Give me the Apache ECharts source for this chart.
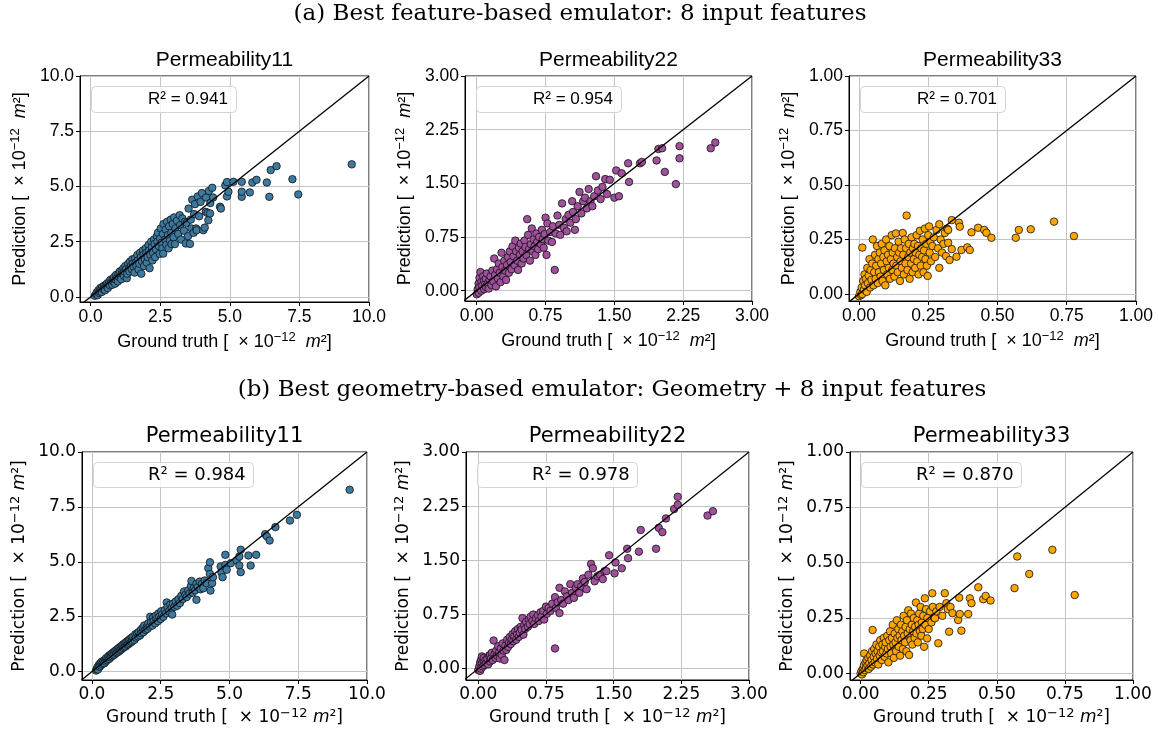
<!DOCTYPE html>
<html>
<head>
<meta charset="utf-8">
<title>Permeability emulators</title>
<script src="https://cdn.jsdelivr.net/npm/echarts@6.0.0/dist/echarts.min.js"></script>
<style>
  html, body { margin: 0; padding: 0; background: #fff; }
  #chart { width: 1159px; height: 734px; }
</style>
</head>
<body>
<div id="chart"></div>
<script>
// values, in 1e-12 m^2, pairs are [ground truth, prediction]
const p11Feature = [
  [0.15,0.05],[0.2,0.12],[0.22,0.2],[0.25,0.08],[0.28,0.3],[0.3,0.18],[0.33,0.25],[0.35,0.4],[0.38,0.32],[0.4,0.22],
  [0.42,0.45],[0.45,0.35],[0.48,0.5],[0.5,0.4],[0.52,0.3],[0.55,0.55],[0.58,0.48],[0.6,0.62],[0.62,0.4],[0.65,0.58],
  [0.68,0.7],[0.7,0.52],[0.72,0.78],[0.75,0.65],[0.78,0.55],[0.8,0.82],[0.82,0.7],[0.85,0.9],[0.88,0.6],[0.9,0.78],
  [0.92,1.0],[0.95,0.85],[0.98,0.7],[1.0,1.05],[1.02,0.9],[1.05,1.15],[1.08,0.95],[1.1,0.8],[1.12,1.2],[1.15,1.05],
  [1.18,1.3],[1.2,0.95],[1.22,1.15],[1.25,1.4],[1.28,1.25],[1.3,0.85],[1.32,1.05],[1.35,1.5],[1.38,1.3],[1.4,1.15],
  [1.42,1.6],[1.45,1.4],[1.48,1.25],[1.5,1.7],[1.52,1.5],[1.55,1.35],[1.58,1.1],[1.6,1.75],[1.62,1.55],[1.65,1.4],
  [1.68,1.9],[1.7,1.65],[1.72,1.25],[1.75,1.5],[1.78,2.0],[1.8,1.8],[1.82,1.05],[1.85,1.6],[1.88,2.1],[1.9,1.9],
  [1.92,1.4],[1.95,1.7],[1.98,2.2],[2.0,2.0],[2.02,1.55],[2.05,1.8],[2.08,2.35],[2.1,2.1],[2.12,1.3],[2.15,1.9],
  [2.18,2.5],[2.2,2.25],[2.22,1.65],[2.25,2.0],[2.28,2.6],[2.3,2.4],[2.32,1.8],[2.35,2.15],[2.38,2.75],[2.4,2.5],
  [2.42,2.9],[2.45,2.3],[2.48,1.95],[2.5,2.65],[2.52,3.1],[2.55,2.45],[2.58,2.2],[2.6,2.85],[2.61,1.96],[2.62,3.3],
  [2.68,2.6],[2.7,3.05],[2.72,2.35],[2.75,3.4],[2.78,2.8],[2.8,2.2],[2.82,3.2],[2.85,2.55],[2.88,3.5],[2.9,2.9],
  [2.91,2.39],[2.95,3.3],[2.98,2.7],[3.0,3.6],[3.03,2.39],[3.05,3.1],[3.1,3.45],[3.15,2.85],[3.2,3.7],[3.22,3.25],
  [3.25,2.6],[3.3,3.55],[3.35,3.0],[3.39,3.4],[3.42,2.42],[3.45,3.35],[3.5,2.75],[3.52,4.0],[3.57,2.4],[3.6,3.5],
  [3.62,3.1],[3.65,4.4],[3.7,2.9],[3.72,3.75],[3.75,4.2],[3.79,3.1],[3.81,3.02],[3.85,4.55],[3.9,3.65],[3.95,4.3],
  [4.0,4.7],[4.05,3.02],[4.1,3.14],[4.14,3.85],[4.15,4.5],[4.2,3.8],[4.23,3.47],[4.25,4.8],[4.29,3.78],[4.3,4.25],
  [4.37,4.94],[4.4,4.5],[4.65,4.08],[4.68,4.0],[4.84,5.05],[4.9,5.2],[4.9,4.55],[4.95,4.76],[5.13,5.21],[5.43,5.21],
  [5.43,4.53],[5.43,4.76],[5.72,4.73],[5.81,5.18],[5.96,5.3],[6.33,5.18],[6.42,4.53],[6.47,5.74],[6.68,5.92],[7.25,5.33],
  [7.46,4.64],[9.38,6.0]
];
const p22Feature = [
  [0.0,-0.05],[0.01,0.02],[0.02,-0.03],[0.02,0.1],[0.03,0.18],[0.03,0.05],[0.04,0.26],[0.05,0.0],[0.05,0.12],[0.06,0.07],
  [0.07,0.2],[0.08,0.02],[0.08,0.14],[0.09,0.09],[0.1,0.05],[0.1,0.17],[0.11,0.24],[0.12,0.1],[0.13,0.03],[0.14,0.15],
  [0.15,0.2],[0.16,0.08],[0.17,0.28],[0.18,0.13],[0.19,0.45],[0.2,0.22],[0.21,0.06],[0.22,0.3],[0.23,0.17],[0.24,0.38],
  [0.25,0.25],[0.26,0.12],[0.27,0.53],[0.28,0.33],[0.29,0.2],[0.3,0.42],[0.31,0.28],[0.32,0.15],[0.33,0.36],[0.34,0.47],
  [0.35,0.25],[0.36,0.55],[0.37,0.4],[0.38,0.3],[0.39,0.62],[0.4,0.48],[0.41,0.36],[0.42,0.7],[0.43,0.55],[0.44,0.42],
  [0.45,0.29],[0.46,0.6],[0.47,0.5],[0.48,0.66],[0.49,0.38],[0.5,0.55],[0.51,0.45],[0.52,0.7],[0.53,0.61],[0.54,0.5],
  [0.55,1.0],[0.56,0.78],[0.57,0.58],[0.58,0.42],[0.59,0.65],[0.6,0.87],[0.61,0.55],[0.62,0.72],[0.63,0.62],[0.64,0.5],
  [0.65,0.8],[0.66,0.68],[0.67,0.58],[0.68,0.75],[0.7,0.65],[0.71,0.85],[0.72,0.72],[0.73,0.6],[0.74,0.79],[0.75,1.02],
  [0.76,0.5],[0.77,0.94],[0.78,0.7],[0.8,0.82],[0.82,0.68],[0.83,0.9],[0.85,0.29],[0.86,0.8],[0.88,1.05],[0.9,0.92],
  [0.91,0.78],[0.93,1.22],[0.95,0.88],[0.97,1.0],[0.98,0.83],[1.0,1.06],[1.02,0.95],[1.04,1.25],[1.05,1.1],[1.07,0.85],
  [1.08,1.0],[1.1,1.18],[1.12,1.38],[1.14,1.08],[1.16,1.25],[1.18,1.3],[1.2,1.15],[1.22,1.42],[1.24,1.25],[1.26,1.18],
  [1.28,1.32],[1.3,1.6],[1.32,1.4],[1.35,1.28],[1.37,1.45],[1.4,1.56],[1.42,1.35],[1.45,1.55],[1.5,1.3],[1.52,1.68],
  [1.55,1.32],[1.58,1.64],[1.65,1.78],[1.66,1.52],[1.78,1.78],[1.8,1.8],[1.96,1.82],[1.98,1.98],[2.02,1.99],[2.05,1.66],
  [2.17,1.49],[2.21,2.02],[2.21,1.85],[2.55,1.99],[2.6,2.07]
];
const p33Feature = [
  [0.0,-0.01],[0.005,0.01],[0.008,-0.005],[0.01,0.03],[0.012,0.0],[0.015,0.06],[0.012,0.213],[0.018,0.02],[0.02,0.09],[0.022,0.04],
  [0.025,0.07],[0.028,0.01],[0.03,0.12],[0.032,0.05],[0.035,0.085],[0.038,0.16],[0.04,0.03],[0.042,0.11],[0.045,0.065],[0.048,0.14],
  [0.05,0.25],[0.052,0.04],[0.055,0.1],[0.058,0.18],[0.06,0.07],[0.062,0.13],[0.065,0.22],[0.068,0.05],[0.07,0.16],[0.072,0.1],
  [0.075,0.19],[0.078,0.08],[0.08,0.14],[0.082,0.23],[0.085,0.06],[0.088,0.17],[0.09,0.11],[0.092,0.2],[0.095,0.04],[0.098,0.25],
  [0.1,0.15],[0.102,0.09],[0.105,0.18],[0.108,0.12],[0.11,0.22],[0.112,0.07],[0.115,0.16],[0.118,0.27],[0.12,0.11],[0.122,0.19],
  [0.125,0.14],[0.128,0.08],[0.13,0.21],[0.133,0.278],[0.135,0.13],[0.138,0.17],[0.14,0.1],[0.143,0.24],[0.145,0.19],[0.148,0.06],
  [0.15,0.15],[0.152,0.21],[0.155,0.12],[0.158,0.28],[0.16,0.18],[0.162,0.09],[0.165,0.25],[0.168,0.14],[0.17,0.21],[0.172,0.36],
  [0.175,0.11],[0.178,0.17],[0.18,0.23],[0.183,0.07],[0.185,0.19],[0.188,0.14],[0.19,0.26],[0.193,0.1],[0.195,0.21],[0.198,0.16],
  [0.2,0.23],[0.203,0.12],[0.205,0.19],[0.208,0.27],[0.21,0.15],[0.213,0.22],[0.215,0.09],[0.218,0.18],[0.22,0.29],[0.223,0.13],
  [0.225,0.21],[0.228,0.17],[0.23,0.25],[0.233,0.1],[0.235,0.2],[0.238,0.3],[0.24,0.16],[0.243,0.23],[0.245,0.13],[0.248,0.083],
  [0.25,0.27],[0.253,0.31],[0.255,0.19],[0.258,0.24],[0.26,0.15],[0.265,0.22],[0.27,0.26],[0.275,0.17],[0.28,0.294],[0.285,0.21],
  [0.29,0.32],[0.29,0.12],[0.295,0.25],[0.3,0.19],[0.305,0.23],[0.31,0.28],[0.314,0.174],[0.318,0.3],[0.322,0.235],[0.322,0.294],
  [0.327,0.156],[0.335,0.339],[0.335,0.206],[0.352,0.171],[0.361,0.327],[0.364,0.309],[0.37,0.202],[0.391,0.214],[0.4,0.202],[0.406,0.283],
  [0.43,0.304],[0.452,0.294],[0.46,0.281],[0.478,0.258],[0.566,0.258],[0.577,0.294],[0.62,0.297],[0.704,0.332],[0.776,0.266]
];
const p11Geometry = [
  [0.15,0.05],[0.18,0.12],[0.2,0.2],[0.22,0.1],[0.25,0.3],[0.28,0.22],[0.3,0.38],[0.32,0.28],[0.35,0.45],[0.38,0.35],
  [0.4,0.42],[0.43,0.5],[0.45,0.38],[0.48,0.55],[0.5,0.46],[0.52,0.62],[0.55,0.52],[0.58,0.6],[0.6,0.7],[0.63,0.58],
  [0.65,0.75],[0.68,0.65],[0.7,0.8],[0.72,0.7],[0.75,0.85],[0.78,0.74],[0.8,0.9],[0.82,0.78],[0.85,0.95],[0.88,0.84],
  [0.9,1.0],[0.93,0.88],[0.95,1.05],[0.98,0.92],[1.0,1.1],[1.03,0.98],[1.05,1.15],[1.08,1.02],[1.1,1.2],[1.13,1.08],
  [1.15,1.25],[1.18,1.12],[1.2,1.3],[1.23,1.15],[1.25,1.35],[1.28,1.22],[1.3,1.4],[1.33,1.25],[1.35,1.45],[1.38,1.3],
  [1.4,1.5],[1.43,1.35],[1.45,1.55],[1.48,1.4],[1.5,1.6],[1.55,1.45],[1.58,1.7],[1.6,1.55],[1.65,1.75],[1.68,1.6],
  [1.7,1.8],[1.75,1.65],[1.78,1.9],[1.8,1.75],[1.85,2.0],[1.88,1.8],[1.9,2.1],[1.95,1.9],[2.0,2.05],[2.02,1.95],
  [2.05,2.2],[2.1,2.05],[2.12,2.5],[2.15,2.25],[2.2,2.1],[2.22,2.45],[2.25,2.3],[2.3,2.2],[2.32,2.55],[2.35,2.4],
  [2.4,2.3],[2.42,2.65],[2.45,2.5],[2.5,2.4],[2.52,2.75],[2.55,2.6],[2.6,2.5],[2.65,2.8],[2.7,2.65],[2.72,3.15],
  [2.75,2.95],[2.8,2.75],[2.85,3.05],[2.9,2.9],[2.92,2.6],[2.95,3.1],[3.0,2.95],[3.05,3.2],[3.1,3.0],[3.15,3.3],
  [3.2,3.12],[3.25,3.45],[3.3,3.3],[3.35,3.65],[3.4,3.5],[3.45,3.4],[3.5,3.7],[3.55,3.55],[3.6,3.9],[3.62,4.13],
  [3.66,3.6],[3.7,3.8],[3.75,3.7],[3.8,4.0],[3.8,3.27],[3.85,3.85],[3.92,4.1],[3.95,3.75],[4.0,4.0],[4.05,3.8],
  [4.1,4.15],[4.17,4.03],[4.23,4.71],[4.29,4.98],[4.29,4.45],[4.31,3.69],[4.37,4.03],[4.4,4.3],[4.68,4.79],[4.71,4.51],
  [4.75,4.3],[4.85,5.32],[4.85,4.86],[4.9,4.64],[5.05,4.94],[5.26,5.06],[5.36,5.24],[5.36,4.83],[5.41,5.55],[5.41,4.53],
  [5.69,5.29],[5.77,4.83],[5.97,5.32],[6.3,6.26],[6.36,6.16],[6.46,5.97],[6.67,6.58],[7.2,6.88],[7.45,7.14],[9.37,8.28]
];
const p22Geometry = [
  [0.0,-0.02],[0.01,0.03],[0.02,0.08],[0.02,-0.03],[0.03,0.12],[0.03,0.0],[0.04,0.07],[0.04,0.17],[0.05,0.03],[0.06,0.1],
  [0.06,0.15],[0.07,0.05],[0.08,0.12],[0.09,0.08],[0.1,0.14],[0.11,0.06],[0.12,0.18],[0.13,0.1],[0.13,0.19],[0.14,0.14],
  [0.15,0.22],[0.16,0.12],[0.17,0.39],[0.18,0.2],[0.19,0.15],[0.2,0.25],[0.21,0.18],[0.22,0.31],[0.23,0.22],[0.24,0.14],
  [0.25,0.28],[0.26,0.19],[0.27,0.35],[0.28,0.25],[0.29,0.12],[0.3,0.32],[0.31,0.26],[0.32,0.4],[0.33,0.3],[0.34,0.36],
  [0.35,0.44],[0.36,0.34],[0.37,0.4],[0.38,0.48],[0.39,0.38],[0.4,0.45],[0.41,0.52],[0.42,0.4],[0.43,0.48],[0.44,0.55],
  [0.45,0.44],[0.46,0.5],[0.47,0.58],[0.48,0.54],[0.49,0.7],[0.5,0.47],[0.51,0.6],[0.52,0.55],[0.53,0.65],[0.55,0.58],
  [0.56,0.68],[0.57,0.62],[0.58,0.72],[0.6,0.66],[0.61,0.75],[0.62,0.62],[0.64,0.7],[0.66,0.74],[0.67,0.66],[0.69,0.78],
  [0.7,0.72],[0.72,0.8],[0.73,0.68],[0.75,0.86],[0.76,0.76],[0.78,0.84],[0.8,0.8],[0.82,0.9],[0.85,0.28],[0.85,0.99],
  [0.86,0.84],[0.88,0.92],[0.9,0.77],[0.9,1.12],[0.92,0.95],[0.94,0.9],[0.96,1.07],[0.98,1.0],[1.0,0.95],[1.02,1.17],
  [1.04,1.05],[1.06,0.98],[1.08,1.12],[1.1,1.17],[1.12,1.05],[1.14,1.14],[1.16,1.25],[1.18,1.2],[1.2,1.1],[1.22,1.3],
  [1.25,1.45],[1.27,1.39],[1.29,1.21],[1.32,1.28],[1.35,1.3],[1.38,1.24],[1.4,1.35],[1.42,1.35],[1.45,1.57],[1.51,1.32],
  [1.52,1.47],[1.59,1.39],[1.65,1.66],[1.66,1.53],[1.78,1.62],[1.8,1.92],[1.97,1.66],[2.0,1.95],[2.04,1.89],[2.08,2.08],
  [2.17,2.21],[2.21,2.27],[2.21,2.38],[2.54,2.12],[2.6,2.18]
];
const p33Geometry = [
  [0.0,0.0],[0.003,0.01],[0.005,-0.005],[0.008,0.02],[0.01,0.005],[0.012,0.035],[0.013,0.09],[0.015,0.015],[0.018,0.05],[0.02,0.025],
  [0.022,0.06],[0.025,0.035],[0.028,0.07],[0.03,0.02],[0.032,0.045],[0.035,0.08],[0.038,0.03],[0.04,0.06],[0.042,0.1],[0.044,0.196],
  [0.045,0.04],[0.048,0.075],[0.05,0.11],[0.052,0.05],[0.055,0.09],[0.058,0.13],[0.06,0.065],[0.062,0.1],[0.065,0.04],[0.068,0.12],
  [0.07,0.08],[0.072,0.15],[0.075,0.095],[0.078,0.06],[0.08,0.13],[0.082,0.1],[0.085,0.16],[0.088,0.075],[0.09,0.12],[0.092,0.14],
  [0.095,0.09],[0.098,0.17],[0.1,0.11],[0.102,0.05],[0.105,0.15],[0.108,0.19],[0.11,0.12],[0.112,0.09],[0.115,0.16],[0.118,0.22],
  [0.12,0.13],[0.122,0.07],[0.125,0.18],[0.128,0.14],[0.13,0.1],[0.133,0.24],[0.135,0.16],[0.138,0.2],[0.14,0.12],[0.143,0.17],
  [0.145,0.08],[0.148,0.22],[0.15,0.15],[0.153,0.19],[0.155,0.11],[0.158,0.26],[0.16,0.17],[0.163,0.14],[0.165,0.21],[0.168,0.1],
  [0.17,0.24],[0.173,0.18],[0.175,0.285],[0.178,0.083],[0.18,0.2],[0.183,0.15],[0.185,0.27],[0.188,0.22],[0.19,0.13],[0.193,0.19],
  [0.195,0.25],[0.198,0.16],[0.2,0.21],[0.203,0.32],[0.205,0.18],[0.208,0.24],[0.21,0.14],[0.213,0.22],[0.215,0.27],[0.218,0.19],
  [0.22,0.3],[0.223,0.17],[0.225,0.23],[0.228,0.2],[0.23,0.26],[0.233,0.12],[0.236,0.339],[0.238,0.22],[0.24,0.29],[0.244,0.158],
  [0.245,0.25],[0.25,0.2],[0.255,0.28],[0.26,0.23],[0.263,0.362],[0.265,0.3],[0.27,0.25],[0.273,0.249],[0.278,0.28],[0.285,0.136],
  [0.29,0.3],[0.3,0.26],[0.309,0.362],[0.315,0.317],[0.32,0.29],[0.325,0.188],[0.33,0.3],[0.337,0.272],[0.358,0.241],[0.362,0.342],
  [0.364,0.268],[0.37,0.193],[0.395,0.268],[0.401,0.339],[0.407,0.317],[0.432,0.389],[0.45,0.335],[0.459,0.35],[0.477,0.329],[0.565,0.385],
  [0.575,0.528],[0.619,0.449],[0.704,0.558],[0.786,0.354]
];

const r2Values = [0.941, 0.954, 0.701, 0.984, 0.978, 0.870];
const panelTitles = ['Permeability11', 'Permeability22', 'Permeability33'];
const rowTitles = [
  '(a) Best feature-based emulator: 8 input features',
  '(b) Best geometry-based emulator: Geometry + 8 input features'
];
const ticks11 = [0, 2.5, 5, 7.5, 10];
const ticks22 = [0, 0.75, 1.5, 2.25, 3];
const ticks33 = [0, 0.25, 0.5, 0.75, 1];

// layout of the six panels, in page pixels, and their axis extents
const panels = [
  { data: p11Feature, ticks: ticks11, dec: 1, color: '#3d7aa2', row: 0, left: 80, top: 76, width: 289, height: 226, x: [-0.38, 10], y: [-0.23, 10] },
  { data: p22Feature, ticks: ticks22, dec: 2, color: '#a0509d', row: 0, left: 465, top: 76, width: 287, height: 225, x: [-0.128, 3], y: [-0.144, 3] },
  { data: p33Feature, ticks: ticks33, dec: 2, color: '#ffa500', row: 0, left: 849, top: 76, width: 287, height: 225, x: [-0.036, 1], y: [-0.032, 1] },
  { data: p11Geometry, ticks: ticks11, dec: 1, color: '#3d7aa2', row: 1, left: 82, top: 452, width: 285, height: 228, x: [-0.36, 10], y: [-0.38, 10] },
  { data: p22Geometry, ticks: ticks22, dec: 2, color: '#a0509d', row: 1, left: 466, top: 452, width: 283, height: 228, x: [-0.136, 3], y: [-0.157, 3] },
  { data: p33Geometry, ticks: ticks33, dec: 2, color: '#ffa500', row: 1, left: 850, top: 452, width: 283, height: 228, x: [-0.039, 1], y: [-0.03, 1] }
];
// per row: font, tick size, axis-name size, legend text size, spacing inside the unit label
const rowStyle = [
  { font: 'Liberation Sans', tick: 17.5, name: 18, legend: 17, xGap: 29, yGap: 49, titleY: 60, pad: [5, 9, 5, 57],
    unit: ' [  × 10{sup|−12}  {it|m}²]', rowTitleX: 580, rowTitleY: 14 },
  { font: 'DejaVu Sans', tick: 17, name: 17, legend: 18, xGap: 27, yGap: 51, titleY: 437, pad: [4, 8, 4, 55],
    unit: ' [  × 10{sup|−12} {it|m}²]', rowTitleX: 612, rowTitleY: 390 }
];

function nameStyle(font, size) {
  return {
    color: '#000', fontFamily: font, fontSize: size, lineHeight: 22,
    rich: {
      sup: { fontFamily: font, fontSize: 13, lineHeight: 12, verticalAlign: 'top', color: '#000' },
      it: { fontFamily: font, fontSize: size, fontStyle: 'italic', color: '#000' }
    }
  };
}

const grids = [], xAxes = [], yAxes = [], series = [], titles = [], texts = [];

panels.forEach(function (p, i) {
  const rs = rowStyle[p.row];
  grids.push({
    left: p.left, top: p.top, width: p.width, height: p.height,
    show: true, borderColor: '#000', borderWidth: 1, backgroundColor: 'transparent'
  });
  const common = {
    type: 'value', gridIndex: i,
    axisLine: { show: true, onZero: false, lineStyle: { color: '#000', width: 1 } },
    axisTick: { show: true, length: 4, customValues: p.ticks, lineStyle: { color: '#000' } },
    axisLabel: {
      customValues: p.ticks, color: '#000', fontFamily: rs.font, fontSize: rs.tick, margin: 6,
      formatter: function (v) { return v.toFixed(p.dec); }
    },
    splitLine: { show: true, lineStyle: { color: '#c4c4c4', width: 1 } },
    nameLocation: 'middle',
    nameTextStyle: nameStyle(rs.font, rs.name)
  };
  xAxes.push(Object.assign({}, common, {
    min: p.x[0], max: p.x[1], name: 'Ground truth' + rs.unit, nameGap: rs.xGap
  }));
  yAxes.push(Object.assign({}, common, {
    min: p.y[0], max: p.y[1], name: 'Prediction' + rs.unit, nameGap: rs.yGap
  }));
  series.push({
    type: 'scatter', xAxisIndex: i, yAxisIndex: i, data: p.data,
    symbolSize: 7.5, z: 2,
    itemStyle: { color: p.color, borderColor: '#111', borderWidth: 0.8, opacity: 1 }
  });
  const lo = Math.min(p.x[0], p.y[0]);
  series.push({
    type: 'line', xAxisIndex: i, yAxisIndex: i, data: [[lo, lo], [p.x[1], p.y[1]]],
    symbol: 'none', z: 3, clip: true, silent: true,
    lineStyle: { color: '#000', width: 1.3 }
  });
  // legend box holding the R² score
  titles.push({
    text: 'R² = ' + r2Values[i].toFixed(3),
    left: p.left + 11, top: p.top + 10,
    padding: rs.pad,
    borderColor: '#d4d4d4', borderWidth: 1, borderRadius: 4,
    backgroundColor: 'rgba(255,255,255,0.8)',
    textStyle: { fontFamily: rs.font, fontSize: rs.legend, fontWeight: 'normal', color: '#000' }
  });
  texts.push({
    type: 'text', x: p.left + p.width / 2, y: rs.titleY,
    style: {
      text: panelTitles[i % 3], fill: '#000', font: '21px "' + rs.font + '"',
      align: 'center', verticalAlign: 'middle', textAlign: 'center', textVerticalAlign: 'middle'
    }
  });
});

rowTitles.forEach(function (t, r) {
  texts.push({
    type: 'text', x: rowStyle[r].rowTitleX, y: rowStyle[r].rowTitleY,
    style: {
      text: t, fill: '#000', font: '23px "DejaVu Serif"',
      align: 'center', verticalAlign: 'middle', textAlign: 'center', textVerticalAlign: 'middle'
    }
  });
});

const chart = echarts.init(document.getElementById('chart'));
chart.setOption({
  animation: false,
  backgroundColor: '#fff',
  title: titles,
  grid: grids,
  xAxis: xAxes,
  yAxis: yAxes,
  series: series,
  graphic: texts
});
</script>
</body>
</html>
